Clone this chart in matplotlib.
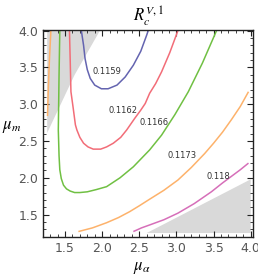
import matplotlib
matplotlib.use("Agg")
import matplotlib.pyplot as plt
from matplotlib.ticker import MultipleLocator

plt.rcParams["mathtext.fontset"] = "stix"

# contour levels and their traced curves (mu_alpha, mu_m)
levels = ["0.1159", "0.1162", "0.1166", "0.1173", "0.118"]
colors = ["#6464b0", "#f26d78", "#70c043", "#fdb26b", "#d66fb9"]

blue_x = [1.72, 1.75, 1.77, 1.80, 1.84, 1.90, 1.99, 2.08, 2.20, 2.31, 2.42, 2.52, 2.60, 2.62]
blue_y = [4.00, 3.80, 3.62, 3.47, 3.35, 3.26, 3.21, 3.21, 3.26, 3.37, 3.53, 3.72, 3.94, 4.00]

red_x = [1.56, 1.57, 1.58, 1.61, 1.64, 1.66, 1.70, 1.75, 1.81, 1.88, 1.98, 2.06, 2.15, 2.25,
         2.33, 2.44, 2.52, 2.58, 2.64, 2.72, 2.80, 2.91, 3.02]
red_y = [4.00, 3.60, 3.17, 2.95, 2.72, 2.65, 2.55, 2.47, 2.42, 2.39, 2.39, 2.42, 2.47, 2.55,
         2.65, 2.81, 2.92, 3.01, 3.15, 3.28, 3.44, 3.70, 4.00]

green_x = [1.43, 1.42, 1.41, 1.42, 1.43, 1.45, 1.48, 1.52, 1.57, 1.63, 1.70, 1.80, 1.92,
           2.06, 2.24, 2.42, 2.64, 2.80, 2.98, 3.16, 3.35, 3.54]
green_y = [4.00, 3.40, 2.65, 2.30, 2.11, 1.99, 1.90, 1.85, 1.82, 1.80, 1.80, 1.81, 1.84,
           1.88, 2.00, 2.15, 2.38, 2.58, 2.86, 3.17, 3.56, 4.00]

orange_left_x = [1.31, 1.29, 1.275, 1.265]
orange_left_y = [4.00, 3.60, 3.20, 2.85]

orange_x = [1.68, 1.87, 2.06, 2.22, 2.37, 2.50, 2.64, 2.83, 3.02, 3.20, 3.38, 3.50,
            3.62, 3.74, 3.86, 3.97]
orange_y = [1.27, 1.32, 1.39, 1.46, 1.54, 1.62, 1.71, 1.83, 1.97, 2.14, 2.33, 2.47,
            2.62, 2.79, 2.97, 3.17]

magenta_x = [2.42, 2.53, 2.64, 2.83, 3.02, 3.24, 3.47, 3.62, 3.74, 3.86, 3.97]
magenta_y = [1.27, 1.32, 1.36, 1.43, 1.52, 1.65, 1.81, 1.93, 2.02, 2.11, 2.20]

# excluded (gray) regions
gray_tl_x = [1.26, 1.97, 1.63, 1.26]
gray_tl_y = [4.00, 4.00, 3.40, 2.61]
gray_br_x = [2.60, 4.00, 4.00]
gray_br_y = [1.25, 1.98, 1.25]

# label positions
label_x = [2.06, 2.28, 2.70, 3.08, 3.57]
label_y = [3.44, 2.92, 2.75, 2.30, 2.02]

fig = plt.figure(figsize=(2.58, 2.77), dpi=100)
ax = fig.add_axes([0.1667, 0.1444, 0.814, 0.749])

ax.fill(gray_tl_x, gray_tl_y, color="#d9d9d9", lw=0)
ax.fill(gray_br_x, gray_br_y, color="#d9d9d9", lw=0)

curves = [(blue_x, blue_y), (red_x, red_y), (green_x, green_y),
          (orange_x, orange_y), (magenta_x, magenta_y)]
for (cx, cy), c in zip(curves, colors):
    ax.plot(cx, cy, color=c, lw=1.1, solid_capstyle="butt")
ax.plot(orange_left_x, orange_left_y, color=colors[3], lw=1.1)

for lx, ly, t in zip(label_x, label_y, levels):
    ax.text(lx, ly, t, fontsize=6, color="#333333", ha="center", va="center")

ax.set_xlim(1.204, 4.031)
ax.set_ylim(1.196, 4.015)
ax.xaxis.set_major_locator(MultipleLocator(0.5))
ax.yaxis.set_major_locator(MultipleLocator(0.5))
ax.xaxis.set_minor_locator(MultipleLocator(0.1))
ax.yaxis.set_minor_locator(MultipleLocator(0.1))
ax.tick_params(which="both", direction="in", top=True, right=True, colors="#222222",
               labelcolor="#555555", labelsize=9)
ax.tick_params(which="major", length=4, width=0.8)
ax.tick_params(which="minor", length=2, width=0.6)
ax.set_xticks([1.5, 2.0, 2.5, 3.0, 3.5, 4.0])
ax.set_yticks([1.5, 2.0, 2.5, 3.0, 3.5, 4.0])
for s in ax.spines.values():
    s.set_linewidth(1.0)
    s.set_color("#222222")

ax.set_title(r"$R_c^{V,1}$", fontsize=12, pad=6)
fig.text(0.047, 0.545, r"$\mu_m$", fontsize=12, ha="center", va="center")
fig.text(0.55, 0.035, r"$\mu_\alpha$", fontsize=12, ha="center", va="center")

fig.savefig("out.png", dpi=100)
